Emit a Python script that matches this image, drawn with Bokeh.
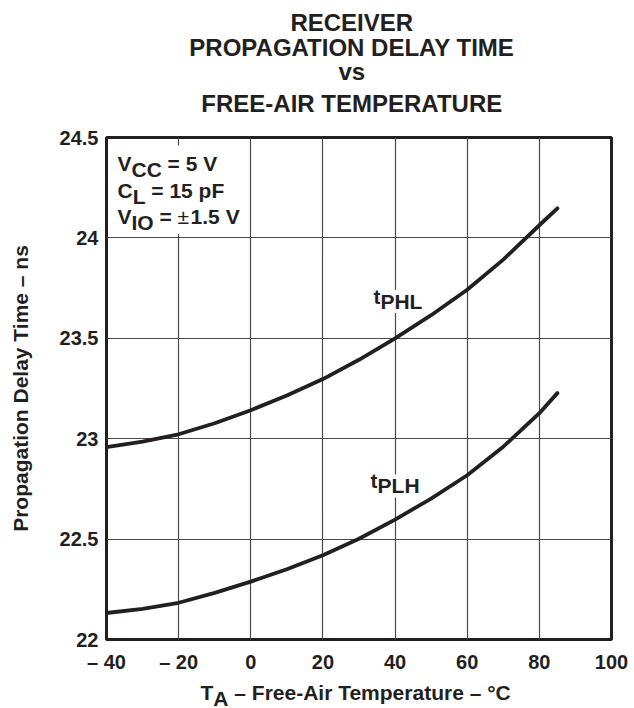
from bokeh.plotting import figure
from bokeh.layouts import column
from bokeh.models import Range1d, FixedTicker, Label, BoxAnnotation
from bokeh.core.properties import value
from bokeh.embed import file_html
from bokeh.resources import INLINE

# ---- data ----
temps = [-40, -30, -20, -10, 0, 10, 20, 30, 40, 50, 60, 70, 80, 85]
t_phl = [22.958, 22.985, 23.022, 23.077, 23.142, 23.215, 23.297, 23.393,
         23.500, 23.615, 23.742, 23.892, 24.063, 24.147]
t_plh = [22.132, 22.153, 22.183, 22.232, 22.288, 22.350, 22.420, 22.502,
         22.597, 22.702, 22.818, 22.960, 23.127, 23.227]

x_ticks = [-40, -20, 0, 20, 40, 60, 80, 100]
x_tick_labels = ["\u2013 40", "\u2013 20", "0", "20", "40", "60", "80", "100"]
y_ticks = [22, 22.5, 23, 23.5, 24, 24.5]
y_tick_labels = ["22", "22.5", "23", "23.5", "24", "24.5"]

title_lines = ["RECEIVER", "PROPAGATION DELAY TIME", "vs", "FREE-AIR TEMPERATURE"]
y_label = "Propagation Delay Time \u2013 ns"
x_label_parts = ["T", "A", "\u2013 Free-Air Temperature \u2013 \u00b0C"]

INK = "#231f20"
FONT = "Liberation Sans"
FS = "21px"

xr = Range1d(-40, 100)
LEFT, RIGHT = 106, 23
FW = 505

# ---------------- main plot ----------------
p = figure(frame_width=FW, frame_height=502,
           min_border_left=LEFT, min_border_right=RIGHT,
           min_border_top=17, min_border_bottom=40,
           x_range=xr, y_range=Range1d(22, 24.5),
           output_backend="svg", toolbar_location=None)

p.outline_line_color = INK
p.outline_line_width = 3
p.background_fill_color = "white"
p.border_fill_color = "white"

for ax in (p.xaxis[0], p.yaxis[0]):
    ax.axis_line_color = None
    ax.major_tick_out = 0
    ax.major_tick_in = 0
    ax.minor_tick_out = 0
    ax.minor_tick_in = 0
    ax.major_label_text_font = FONT
    ax.major_label_text_font_style = "bold"
    ax.major_label_text_font_size = "20px"
    ax.major_label_text_color = INK

p.xaxis.ticker = FixedTicker(ticks=x_ticks)
p.xaxis.major_label_overrides = {t: s for t, s in zip(x_ticks, x_tick_labels)}
p.xaxis.major_label_standoff = 11
p.yaxis.ticker = FixedTicker(ticks=y_ticks)
p.yaxis.major_label_overrides = {t: s for t, s in zip(y_ticks, y_tick_labels)}
p.yaxis.major_label_standoff = 8

p.yaxis.axis_label = y_label
p.yaxis.axis_label_text_font = FONT
p.yaxis.axis_label_text_font_style = "bold"
p.yaxis.axis_label_text_font_size = "21px"
p.yaxis.axis_label_text_color = INK
p.yaxis.axis_label_standoff = 25

p.xgrid.ticker = FixedTicker(ticks=x_ticks)
p.ygrid.ticker = FixedTicker(ticks=y_ticks)
for g in (p.xgrid[0], p.ygrid[0]):
    g.grid_line_color = "#4a4a4a"
    g.grid_line_width = 1.2

p.line(temps, t_phl, line_color=INK, line_width=3.8, line_cap="round")
p.line(temps, t_plh, line_color=INK, line_width=3.8, line_cap="round")


def lab(text, x, y, dx=0, dy=0, bg=None, style="bold"):
    kw = dict(x=x, y=y, x_offset=dx, y_offset=dy, text=text,
              text_font=FONT, text_font_style=style, text_font_size=FS,
              text_color=INK, text_align="left", text_baseline="alphabetic")
    if bg:
        kw["background_fill_color"] = bg
    p.add_layout(Label(**kw))


# conditions box
p.add_layout(BoxAnnotation(left=-39.4, right=-1.5, bottom=24.02, top=24.46,
                           fill_color="white", fill_alpha=1.0, line_color=None))
x0 = 11
SP = 5.8
lab("V", -40, 24.5, x0, -26)
lab("CC", -40, 24.5, x0 + 14.0, -31.5)
lab("= 5 V", -40, 24.5, x0 + 14.0 + 30.3 + SP, -26)
lab("C", -40, 24.5, x0, -53)
lab("L", -40, 24.5, x0 + 15.2, -58.5)
lab("= 15 pF", -40, 24.5, x0 + 15.2 + 12.8 + SP, -53)
lab("V", -40, 24.5, x0, -79)
lab("IO", -40, 24.5, x0 + 14.0, -84.5)
xe = x0 + 14.0 + 22.2 + SP
lab("=", -40, 24.5, xe, -79)
lab("\u00b1", -40, 24.5, xe + 18.1, -79, style="normal")
lab("1.5 V", -40, 24.5, xe + 18.1 + 13.0, -79)

# curve labels
lab("t", 34.0, 23.668, 0, 8, bg="white")
lab("PHL", 34.0, 23.668, 7.0, 3, bg="white")
lab("t", 33.2, 22.752, 0, 8, bg="white")
lab("PLH", 33.2, 22.752, 7.0, 2.5, bg="white")

# ---------------- title strip ----------------
TOP_H = 120
top = figure(frame_width=FW, frame_height=TOP_H, x_range=xr, y_range=Range1d(0, TOP_H),
             min_border_left=LEFT, min_border_right=RIGHT, min_border_top=0, min_border_bottom=0,
             x_axis_type=None, y_axis_type=None, output_backend="svg", toolbar_location=None)
top.outline_line_color = None
top.grid.visible = False
title_baselines = [98, 73, 49, 17]
top.text(x=[28] * len(title_lines), y=title_baselines, text=title_lines,
         text_font=value(FONT), text_font_style="bold", text_font_size="24px",
         text_color=INK, text_align="center", text_baseline="alphabetic")

# ---------------- x-axis title strip ----------------
BOT_H = 29
bot = figure(frame_width=FW, frame_height=BOT_H, x_range=xr, y_range=Range1d(0, BOT_H),
             min_border_left=LEFT, min_border_right=RIGHT, min_border_top=0, min_border_bottom=0,
             x_axis_type=None, y_axis_type=None, output_backend="svg", toolbar_location=None)
bot.outline_line_color = None
bot.grid.visible = False
bx = 94
bot.text(x=[-40], y=[16], x_offset=bx, text=[x_label_parts[0]],
         text_font=value(FONT), text_font_style="bold", text_font_size=FS,
         text_color=INK, text_align="left", text_baseline="alphabetic")
bot.text(x=[-40], y=[10.5], x_offset=bx + 12.8, text=[x_label_parts[1]],
         text_font=value(FONT), text_font_style="bold", text_font_size=FS,
         text_color=INK, text_align="left", text_baseline="alphabetic")
bot.text(x=[-40], y=[16], x_offset=bx + 12.8 + 15.2 + SP, text=[x_label_parts[2]],
         text_font=value(FONT), text_font_style="bold", text_font_size=FS,
         text_color=INK, text_align="left", text_baseline="alphabetic")

layout = column(top, p, bot, spacing=0)
open("out.html", "w").write(file_html(layout, INLINE))
